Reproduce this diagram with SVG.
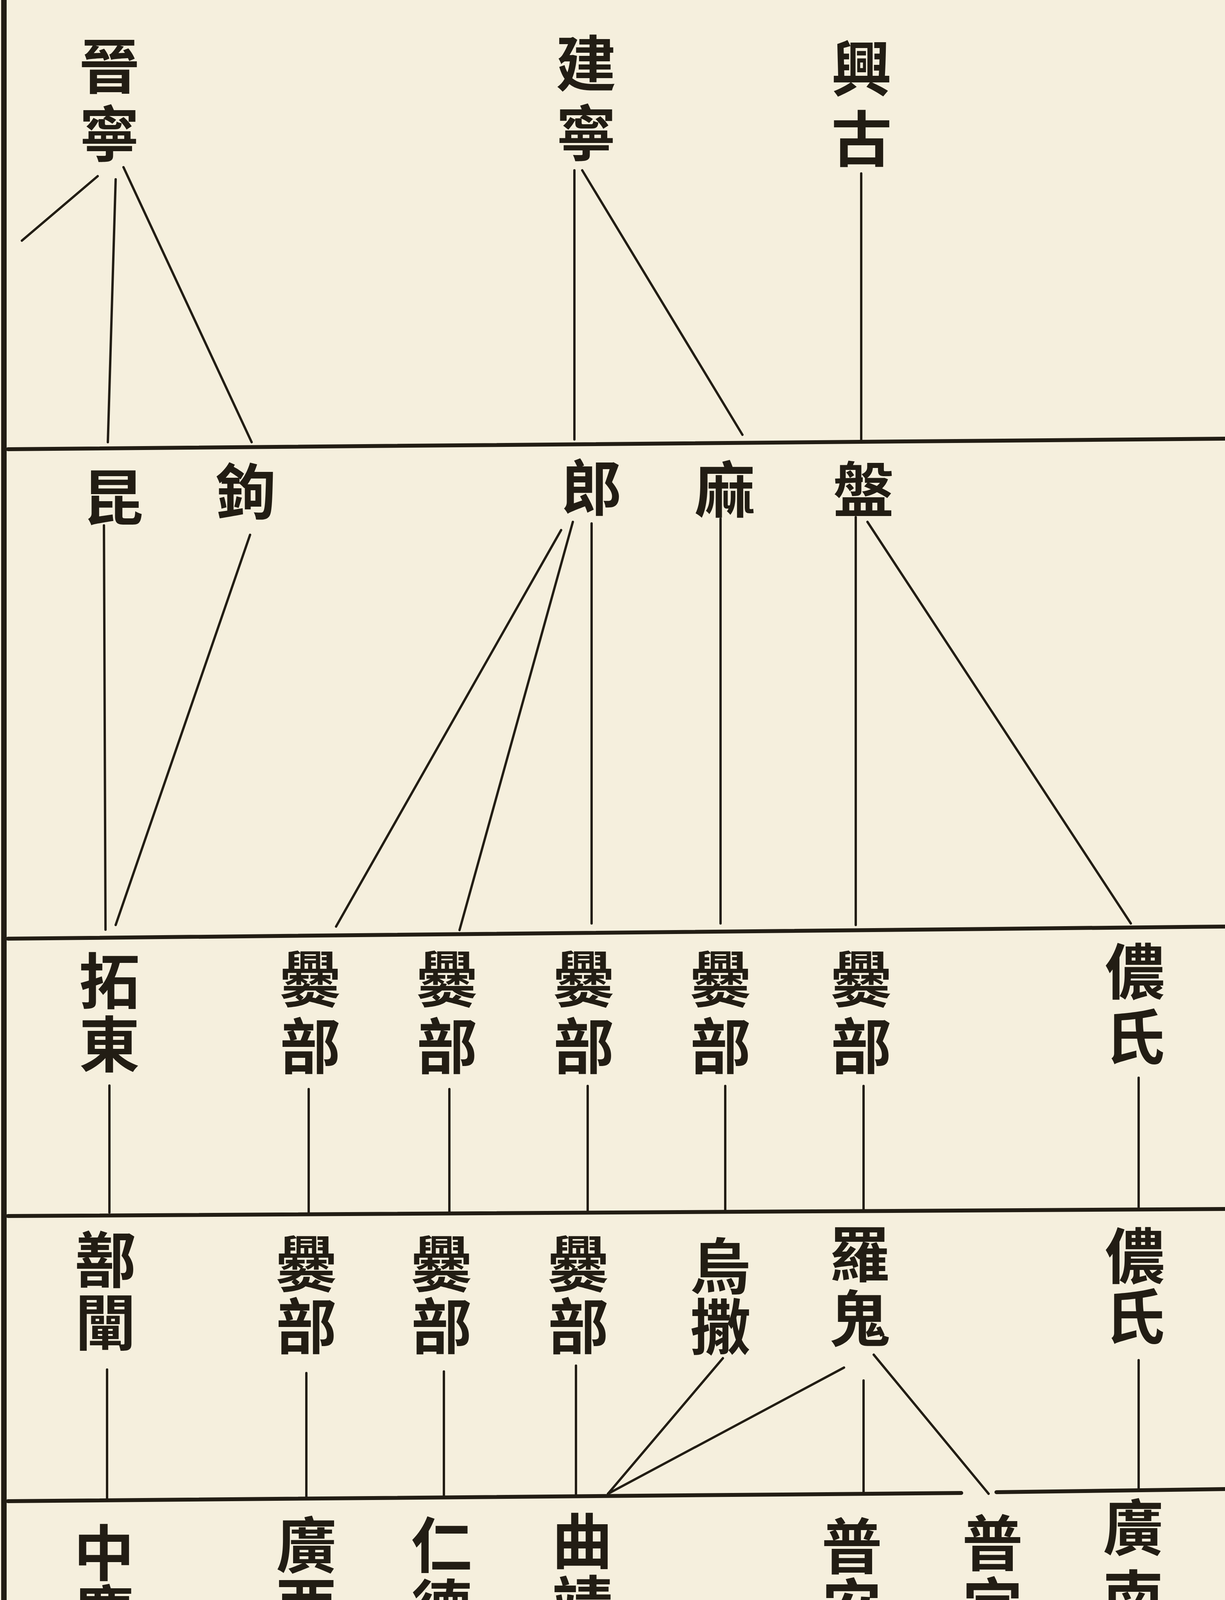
<svg xmlns="http://www.w3.org/2000/svg" width="3135" height="6007" viewBox="0 0 3135 6007">
<style>
.t{font-family:"Noto Sans CJK TC","Noto Sans CJK SC",sans-serif;font-weight:700;font-size:155px;fill:#221d14;text-anchor:middle;writing-mode:vertical-rl;text-orientation:upright}
.s{font-size:135px;letter-spacing:105px}
.h{stroke:#221d14;stroke-width:10;fill:none;stroke-linecap:round}
.c{stroke:#221d14;stroke-width:6;fill:none;stroke-linecap:round}
</style>
<rect width="3135" height="6007" fill="#f5efdd"/>
<line x1="10" y1="0" x2="10" y2="6007" stroke="#221d14" stroke-width="14"/>
<g id="rules">
<line class="h" x1="20" y1="1150" x2="3135" y2="1123"/>
<line class="h" x1="20" y1="2403" x2="3135" y2="2372"/>
<line class="h" x1="20" y1="3113" x2="3135" y2="3095"/>
<line class="h" x1="20" y1="3843" x2="2460" y2="3822"/>
<line class="h" x1="2550" y1="3820" x2="3135" y2="3812"/>
<line class="h" x1="20" y1="4562" x2="3135" y2="4530"/>
<line class="h" x1="20" y1="5292" x2="3135" y2="5255"/>
</g>
<g id="connectors">
<line class="c" x1="250" y1="451" x2="56" y2="616"/>
<line class="c" x1="296" y1="459" x2="276" y2="1132"/>
<line class="c" x1="316" y1="428" x2="644" y2="1132"/>
<line class="c" x1="1470" y1="436" x2="1470" y2="1125"/>
<line class="c" x1="1490" y1="436" x2="1900" y2="1113"/>
<line class="c" x1="2204" y1="444" x2="2204" y2="1125"/>
<line class="c" x1="266" y1="1345" x2="270" y2="2380"/>
<line class="c" x1="640" y1="1369" x2="296" y2="2368"/>
<line class="c" x1="1436" y1="1357" x2="860" y2="2372"/>
<line class="c" x1="1466" y1="1336" x2="1176" y2="2381"/>
<line class="c" x1="1514" y1="1340" x2="1514" y2="2364"/>
<line class="c" x1="1844" y1="1328" x2="1844" y2="2364"/>
<line class="c" x1="2190" y1="1324" x2="2190" y2="2368"/>
<line class="c" x1="2220" y1="1336" x2="2894" y2="2364"/>
<line class="c" x1="280" y1="2779" x2="280" y2="3104"/>
<line class="c" x1="790" y1="2788" x2="790" y2="3110"/>
<line class="c" x1="1150" y1="2788" x2="1150" y2="3105"/>
<line class="c" x1="1504" y1="2780" x2="1504" y2="3100"/>
<line class="c" x1="1856" y1="2780" x2="1856" y2="3100"/>
<line class="c" x1="2210" y1="2780" x2="2210" y2="3098"/>
<line class="c" x1="2914" y1="2759" x2="2914" y2="3090"/>
<line class="c" x1="274" y1="3506" x2="274" y2="3840"/>
<line class="c" x1="784" y1="3515" x2="784" y2="3838"/>
<line class="c" x1="1136" y1="3511" x2="1136" y2="3835"/>
<line class="c" x1="1474" y1="3496" x2="1474" y2="3830"/>
<line class="c" x1="1850" y1="3477" x2="1556" y2="3824"/>
<line class="c" x1="2160" y1="3501" x2="1556" y2="3824"/>
<line class="c" x1="2210" y1="3534" x2="2210" y2="3822"/>
<line class="c" x1="2236" y1="3468" x2="2530" y2="3824"/>
<line class="c" x1="2914" y1="3482" x2="2914" y2="3816"/>
<line class="c" x1="270" y1="4231" x2="270" y2="4546"/>
<line class="c" x1="784" y1="4231" x2="784" y2="4546"/>
<line class="c" x1="1140" y1="4222" x2="1140" y2="4537"/>
<line class="c" x1="1496" y1="4218" x2="1496" y2="4541"/>
<line class="c" x1="2906" y1="4197" x2="2906" y2="4529"/>
<line class="c" x1="276" y1="4942" x2="276" y2="5253"/>
<line class="c" x1="790" y1="4928" x2="790" y2="5253"/>
<line class="c" x1="1146" y1="4939" x2="1146" y2="5264"/>
<line class="c" x1="1186" y1="4932" x2="1456" y2="5260"/>
<line class="c" x1="1490" y1="4932" x2="1490" y2="5267"/>
<line class="c" x1="2900" y1="4900" x2="2900" y2="5239"/>
</g>
<g id="n-jinning"><text class="t" x="280" y="264" style="letter-spacing:19px">晉寧</text></g>
<g id="n-jianning"><text class="t" x="1500" y="262" style="letter-spacing:23px">建寧</text></g>
<g id="n-xinggu"><text class="t" x="2205" y="277" style="letter-spacing:25px">興古</text></g>
<g id="n-kun"><text class="t" x="290" y="1272">昆</text></g>
<g id="n-gou"><text class="t" x="630" y="1257">鉤</text></g>
<g id="n-lang"><text class="t" x="1515" y="1247">郎</text></g>
<g id="n-ma"><text class="t" x="1855" y="1252">麻</text></g>
<g id="n-pan"><text class="t" x="2210" y="1252">盤</text></g>
<g id="n-tuodong"><text class="t" x="280" y="2595" style="letter-spacing:7px">拓東</text></g>
<g id="n-cuan1"><text class="t" x="794" y="2600" style="letter-spacing:17px">爨部</text></g>
<g id="n-cuan2"><text class="t" x="1144" y="2600" style="letter-spacing:17px">爨部</text></g>
<g id="n-cuan3"><text class="t" x="1494" y="2600" style="letter-spacing:17px">爨部</text></g>
<g id="n-cuan4"><text class="t" x="1844" y="2600" style="letter-spacing:17px">爨部</text></g>
<g id="n-cuan5"><text class="t" x="2204" y="2600" style="letter-spacing:17px">爨部</text></g>
<g id="n-nong1"><text class="t" x="2904" y="2576" style="letter-spacing:12px">儂氏</text></g>
<g id="n-shanchan"><text class="t" x="270" y="3307" style="letter-spacing:5px">鄯闡</text></g>
<g id="n-cuan6"><text class="t" x="784" y="3317" style="letter-spacing:5px">爨部</text></g>
<g id="n-cuan7"><text class="t" x="1130" y="3317" style="letter-spacing:5px">爨部</text></g>
<g id="n-cuan8"><text class="t" x="1480" y="3317" style="letter-spacing:5px">爨部</text></g>
<g id="n-wusa"><text class="t" x="1844" y="3318">烏撒</text></g>
<g id="n-luogui"><text class="t" x="2200" y="3297" style="letter-spacing:10px">羅鬼</text></g>
<g id="n-nong2"><text class="t" x="2904" y="3292">儂氏</text></g>
<g id="n-zhongqing"><text class="t" x="266" y="4052">中慶</text></g>
<g id="n-guangxi1"><text class="t" x="784" y="4032">廣西</text></g>
<g id="n-rende"><text class="t" x="1130" y="4037" style="letter-spacing:5px">仁德</text></g>
<g id="n-qujing1"><text class="t" x="1490" y="4027" style="letter-spacing:5px">曲靖</text></g>
<g id="n-puan"><text class="t" x="2180" y="4035">普安</text><text class="t s" x="2240" y="4537">改屬</text><text class="t s" x="2090" y="4537">貴州</text></g>
<g id="n-puding"><text class="t" x="2540" y="4032" style="letter-spacing:5px">普定</text><text class="t s" x="2610" y="4537">改屬</text><text class="t s" x="2464" y="4537">貴州</text></g>
<g id="n-guangnan1"><text class="t" x="2900" y="4012" style="letter-spacing:25px">廣南</text></g>
<g id="n-yunnan1"><text class="t" x="270" y="4762" style="letter-spacing:5px">雲南</text></g>
<g id="n-guangxi2"><text class="t" x="784" y="4738">廣西</text></g>
<g id="n-xundian"><text class="t" x="1130" y="4747" style="letter-spacing:10px">尋甸</text></g>
<g id="n-qujing2"><text class="t" x="1490" y="4747" style="letter-spacing:10px">曲靖</text></g>
<g id="n-guangnan2"><text class="t" x="2896" y="4732">廣南</text></g>
<g id="n-yunnan2"><text class="t" x="270" y="5487" style="letter-spacing:5px">雲南</text></g>
<g id="n-guangxi3"><text class="t" x="784" y="5482" style="letter-spacing:5px">廣西</text></g>
<g id="n-qujing3"><text class="t" x="1484" y="5477" style="letter-spacing:5px">曲靖</text></g>
<g id="n-guangnan3"><text class="t" x="2890" y="5457" style="letter-spacing:5px">廣南</text></g>
</svg>
